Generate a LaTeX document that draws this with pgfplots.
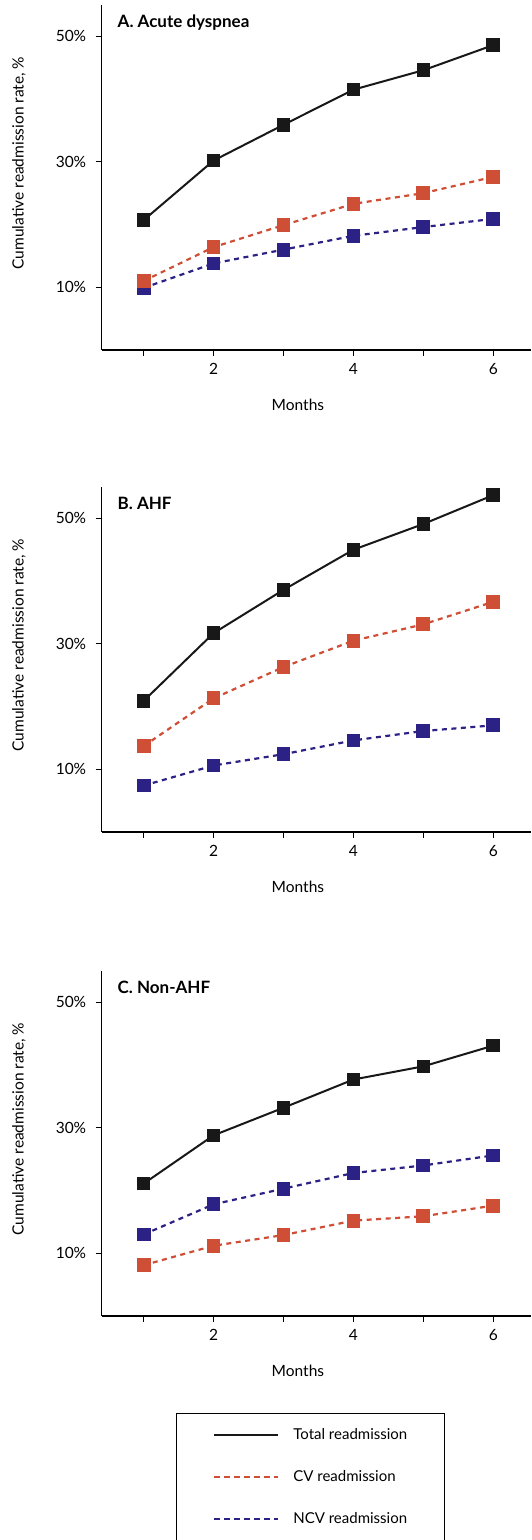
\documentclass[border=0pt]{standalone}
\usepackage{pgfplots}
\pgfplotsset{compat=1.18}
\usepackage{pgfplotstable}
\usepackage{fontspec}
\setmainfont{Lato}

\definecolor{totblack}{RGB}{24,24,24}
\definecolor{cvred}{RGB}{207,78,54}
\definecolor{ncvblue}{RGB}{44,34,134}

% months, total, CV, NCV readmission (%)
\pgfplotstableread{
m  tot   cv    ncv
1  20.7  11.0  9.9
2  30.2  16.4  13.8
3  35.9  19.9  16.0
4  41.5  23.3  18.2
5  44.6  25.0  19.6
6  48.6  27.6  20.9
}\dataA
\pgfplotstableread{
m  tot   cv    ncv
1  20.9  13.7  7.4
2  31.7  21.3  10.6
3  38.6  26.3  12.4
4  45.0  30.5  14.6
5  49.1  33.1  16.1
6  53.7  36.7  17.0
}\dataB
\pgfplotstableread{
m  tot   cv    ncv
1  21.1  8.1   13.0
2  28.8  11.2  17.8
3  33.2  12.9  20.3
4  37.7  15.2  22.8
5  39.8  15.9  24.0
6  43.1  17.6  25.6
}\dataC

\tikzset{ptitle/.style={anchor=base west, font=\fontsize{17}{20}\selectfont\bfseries}}

\pgfplotsset{
  panel/.style={
    scale only axis, width=429.3pt, height=345pt,
    xmin=0.4, xmax=6.54, ymin=0, ymax=55,
    axis x line=bottom, axis y line=left,
    axis line style={-, line width=1.6pt, black},
    xtick={1,2,3,4,5,6}, xticklabels={,2,,4,,6},
    ytick={10,30,50}, yticklabels={10\%,30\%,50\%},
    tick align=outside, major tick length=6pt,
    tick style={line width=1.3pt, black},
    ticklabel style={font=\fontsize{15.5}{18}\selectfont},
    xticklabel style={yshift=-4pt},
    yticklabel style={xshift=-6pt},
    label style={font=\fontsize{15.5}{18}\selectfont},
    xlabel={Months},
    ylabel={Cumulative readmission rate, \%},
    xlabel style={at={(axis description cs:0.457,-0.159)}, anchor=center},
    ylabel style={at={(axis description cs:-0.193,0.542)}, anchor=center},
    clip=false,
  },
  tot/.style={totblack, line width=2pt, mark=square*, mark size=5.8pt,
    mark options={solid}},
  cv/.style={cvred, line width=2.2pt, dash pattern=on 5pt off 4.5pt,
    mark=square*, mark size=5.8pt, mark options={solid}},
  ncv/.style={ncvblue, line width=2.2pt, dash pattern=on 5pt off 4.5pt,
    mark=square*, mark size=5.8pt, mark options={solid}},
}

\begin{document}
\begin{tikzpicture}
\useasboundingbox (0,0) rectangle (531pt,1540pt);

% A
\begin{axis}[panel, at={(101.7pt,1190pt)}]
\addplot[ncv] table[x=m, y=ncv] {\dataA};
\addplot[cv] table[x=m, y=cv] {\dataA};
\addplot[tot] table[x=m, y=tot] {\dataA};
\node[ptitle] at (rel axis cs:0.029,0.936) {A. Acute dyspnea};
\end{axis}

% B
\begin{axis}[panel, at={(101.7pt,708pt)}]
\addplot[ncv] table[x=m, y=ncv] {\dataB};
\addplot[cv] table[x=m, y=cv] {\dataB};
\addplot[tot] table[x=m, y=tot] {\dataB};
\node[ptitle] at (rel axis cs:0.029,0.936) {B. AHF};
\end{axis}

% C with the legend
\begin{axis}[panel, at={(101.7pt,224pt)},
  legend image code/.code={\draw[#1] (0pt,0pt) -- (64pt,0pt);},
  legend style={at={(axis description cs:0.1725,-0.2803)}, anchor=north west,
    draw=black, line width=0.8pt, inner xsep=37pt, inner ysep=15pt,
    row sep=28pt, font=\fontsize{15}{18}\selectfont,
    nodes={inner sep=0pt, text height=11pt, text depth=3pt},
    /tikz/every odd column/.append style={column sep=14pt}},
  legend cell align=left]
\addplot[ncv, forget plot] table[x=m, y=ncv] {\dataC};
\addplot[cv, forget plot] table[x=m, y=cv] {\dataC};
\addplot[tot, forget plot] table[x=m, y=tot] {\dataC};
\node[ptitle] at (rel axis cs:0.029,0.936) {C. Non-AHF};
\addlegendimage{totblack, line width=2pt}
\addlegendentry{Total readmission}
\addlegendimage{cvred, line width=2.2pt, dash pattern=on 5.5pt off 4.5pt}
\addlegendentry{CV readmission}
\addlegendimage{ncvblue, line width=2.2pt, dash pattern=on 5.5pt off 4.5pt}
\addlegendentry{NCV readmission}
\end{axis}
\end{tikzpicture}
\end{document}
